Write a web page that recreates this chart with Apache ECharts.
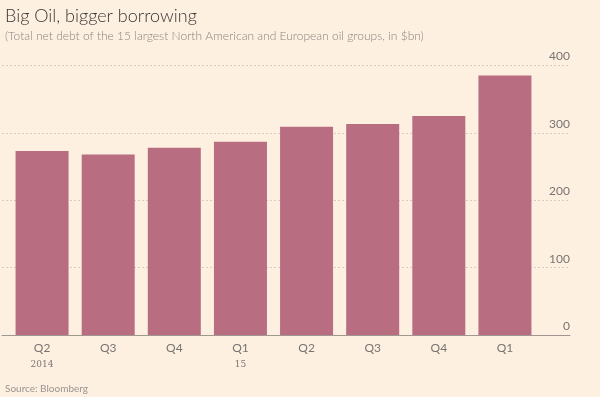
<!DOCTYPE html>
<html>
<head>
<meta charset="utf-8">
<script src="https://cdn.jsdelivr.net/npm/echarts@6/dist/echarts.min.js"></script>
<style>
  html, body { margin: 0; padding: 0; background: #fdf0e1; }
  #chart { width: 600px; height: 397px; }
</style>
</head>
<body>
<div id="chart"></div>
<script>
const quarters = ['Q2', 'Q3', 'Q4', 'Q1', 'Q2', 'Q3', 'Q4', 'Q1'];
const years = ['2014', '', '', '15', '', '', '', ''];
const netDebt = [273, 268, 278, 287, 309, 313, 325, 385];
const yTicks = [0, 100, 200, 300, 400];

const colors = {
  bg: '#fdf0e1',
  bar: '#b86d80',
  grid: '#d9ccbe',
  axis: '#a09890',
  label: '#7a7470'
};

const chart = echarts.init(document.getElementById('chart'));

const option = {
  backgroundColor: colors.bg,
  textStyle: { fontFamily: 'Lato' },
  title: [
    {
      text: 'Big Oil, bigger borrowing',
      left: 0, top: 2,
      textStyle: { fontSize: 18, fontWeight: 300, color: '#3a3533', fontFamily: 'Lato' }
    },
    {
      text: '(Total net debt of the 15 largest North American and European oil groups, in $bn)',
      left: 0, top: 25,
      textStyle: { fontSize: 12, fontWeight: 300, color: '#8a8480', fontFamily: 'Lato' }
    },
    {
      text: 'Source: Bloomberg',
      left: 0, top: 379,
      textStyle: { fontSize: 10, fontWeight: 400, color: '#9a948f', fontFamily: 'Lato' }
    }
  ],
  grid: [
    { left: 2, right: 30, top: 65.5, bottom: 62 },
    { left: 9, right: 62, top: 65.5, bottom: 62 }
  ],
  xAxis: [
    {
      gridIndex: 0,
      type: 'value',
      min: 0, max: 1,
      axisLine: { show: true, onZero: false, lineStyle: { color: colors.axis, width: 1 } },
      axisTick: { show: false },
      axisLabel: { show: false },
      splitLine: { show: false }
    },
    {
      gridIndex: 1,
      type: 'category',
      data: quarters.map((q, i) => ({ value: q + '|' + years[i] })),
      axisLine: { show: false },
      axisTick: { show: false },
      axisLabel: {
        margin: 4,
        formatter: v => {
          const [q, y] = v.split('|');
          return '{q|' + q + '}\n{y|' + y + '}';
        },
        rich: {
          q: { fontSize: 12, color: colors.label, fontFamily: 'Lato', lineHeight: 18 },
          y: { fontSize: 9, color: colors.label, fontFamily: 'DejaVu Serif', lineHeight: 16 }
        }
      }
    }
  ],
  yAxis: [
    {
      gridIndex: 0,
      type: 'value',
      position: 'right',
      min: yTicks[0],
      max: yTicks[yTicks.length - 1],
      interval: 100,
      axisLine: { show: false },
      axisTick: { show: false },
      axisLabel: {
        inside: true,
        margin: 0,
        verticalAlign: 'bottom',
        padding: [0, 0, 3, 0],
        color: colors.label,
        fontSize: 12,
        fontFamily: 'Lato'
      },
      splitLine: { show: true, lineStyle: { color: colors.grid, width: 1, type: [2, 2] } }
    },
    {
      gridIndex: 1,
      type: 'value',
      min: yTicks[0],
      max: yTicks[yTicks.length - 1],
      show: false
    }
  ],
  series: [
    {
      type: 'bar',
      xAxisIndex: 1,
      yAxisIndex: 1,
      data: netDebt,
      barWidth: 53,
      itemStyle: { color: colors.bar },
      silent: true
    }
  ]
};

chart.setOption(option);
window.addEventListener('resize', () => chart.resize());
</script>
</body>
</html>
